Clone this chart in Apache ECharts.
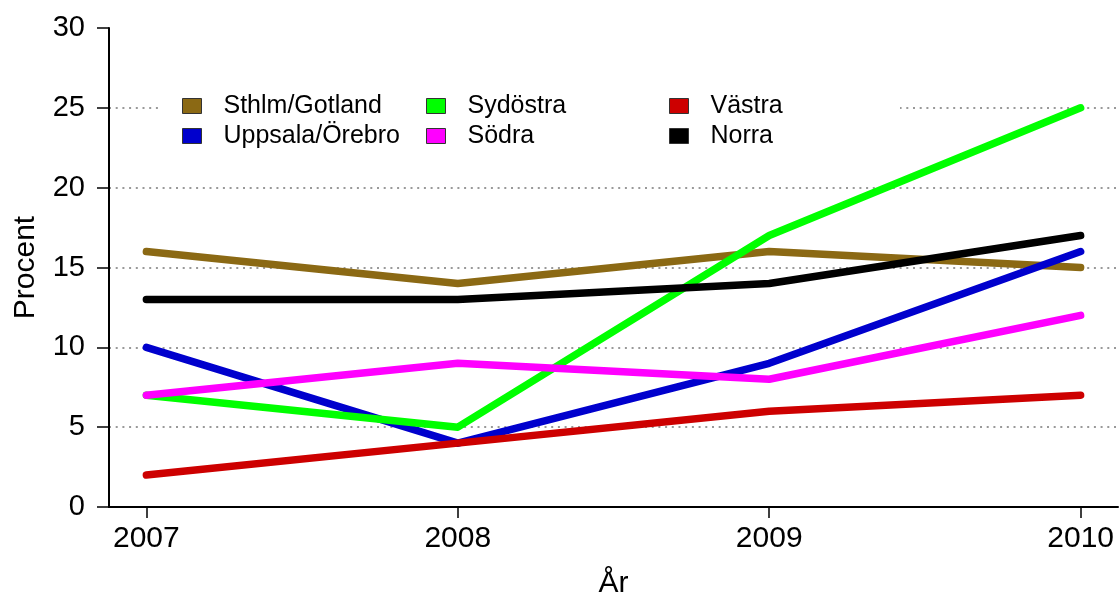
<!DOCTYPE html>
<html>
<head>
<meta charset="utf-8">
<title>Procent per region och år</title>
<script src="https://cdn.jsdelivr.net/npm/echarts@6/dist/echarts.min.js"></script>
<style>
  html, body { margin: 0; padding: 0; background: #fff; }
  #chart { width: 1120px; height: 597px; }
</style>
</head>
<body>
<div id="chart"></div>
<script>
// Years on the x axis
const years = [2007, 2008, 2009, 2010];
const yTicks = [0, 5, 10, 15, 20, 25, 30];

// Share (%) per region and year
const regionNames = ['Sthlm/Gotland', 'Uppsala/Örebro', 'Sydöstra', 'Södra', 'Västra', 'Norra'];
const sthlmGotland = [16, 14, 16, 15];
const uppsalaOrebro = [10, 4, 9, 16];
const sydostra = [7, 5, 17, 25];
const sodra = [7, 9, 8, 12];
const vastra = [2, 4, 6, 7];
const norra = [13, 13, 14, 17];

const regionValues = [sthlmGotland, uppsalaOrebro, sydostra, sodra, vastra, norra];
const regionColors = ['#8B6914', '#0000CD', '#00FF00', '#FF00FF', '#CD0000', '#000000'];

const font = '"Liberation Sans", Arial, Helvetica, sans-serif';

const series = regionNames.map((name, i) => ({
  name: name,
  type: 'line',
  data: years.map((y, j) => [y, regionValues[i][j]]),
  showSymbol: false,
  symbol: 'none',
  color: regionColors[i],
  lineStyle: { width: 7.5, color: regionColors[i], cap: 'round', join: 'round' },
  itemStyle: { color: regionColors[i] },
  z: 2 + i * 0.01,
  animation: false
}));

// Legend laid out in three columns, two rows each (column-major)
const legendCols = [182, 426, 669];
const legendRows = [106, 136];
const legends = regionNames.map((name, i) => ({
  data: [name],
  left: legendCols[Math.floor(i / 2)],
  top: legendRows[i % 2] - 12.5,
  padding: 0,
  itemWidth: 19,
  itemHeight: 15,
  icon: 'rect',
  selectedMode: false,
  itemStyle: { borderColor: '#333', borderWidth: 1 },
  textStyle: { fontFamily: font, fontSize: 25, color: '#000', padding: [0, 0, 0, 17] },
  z: 4
}));

const chart = echarts.init(document.getElementById('chart'), null, { renderer: 'canvas' });

chart.setOption({
  backgroundColor: '#fff',
  animation: false,
  grid: { left: 109, right: 2, top: 28, height: 479, containLabel: false, outerBoundsMode: 'none' },
  legend: legends,
  graphic: [{
    type: 'rect',
    shape: { x: 160, y: 86, width: 740, height: 66 },
    style: { fill: '#fff' },
    z: 1,
    silent: true
  }],
  xAxis: {
    type: 'value',
    min: 2006.88,
    max: 2010.12,
    name: 'År',
    nameLocation: 'middle',
    nameGap: 62,
    nameTextStyle: { fontFamily: font, fontSize: 30, color: '#000' },
    axisLine: { show: true, onZero: false, lineStyle: { color: '#000', width: 2 } },
    axisTick: { show: true, inside: false, length: 11, customValues: years, lineStyle: { color: '#000', width: 1.5 } },
    axisLabel: { show: true, customValues: years, margin: 17, fontFamily: font, fontSize: 30, color: '#000', formatter: v => String(v) },
    splitLine: { show: false }
  },
  yAxis: {
    type: 'value',
    min: 0,
    max: 30,
    interval: 5,
    name: 'Procent',
    nameLocation: 'middle',
    nameGap: 68,
    nameRotate: 90,
    nameTextStyle: { fontFamily: font, fontSize: 30, color: '#000' },
    axisLine: { show: true, lineStyle: { color: '#000', width: 2 } },
    axisTick: { show: true, inside: false, length: 12, lineStyle: { color: '#000', width: 1.5 } },
    axisLabel: { margin: 24, fontFamily: font, fontSize: 29, color: '#000', customValues: yTicks },
    splitLine: {
      show: true,
      showMinLine: false,
      showMaxLine: false,
      lineStyle: { color: '#999', width: 2, type: [2, 4.7] }
    }
  },
  series: series
});
</script>
</body>
</html>
